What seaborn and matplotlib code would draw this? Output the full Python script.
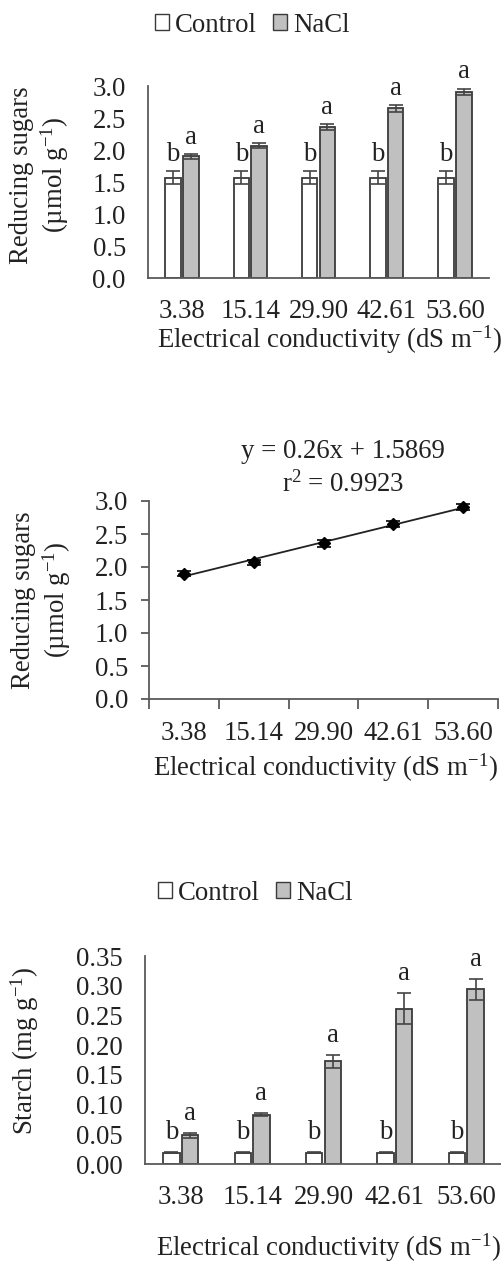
import numpy as np
import pandas as pd
import matplotlib
matplotlib.use("Agg")
import matplotlib.pyplot as plt
import seaborn as sns
from matplotlib.patches import Patch

sns.set_theme(style="white")
plt.rcParams['font.family'] = ['Liberation Serif', 'DejaVu Serif']
plt.rcParams['mathtext.fontset'] = 'custom'
plt.rcParams['mathtext.rm'] = 'Liberation Serif'
plt.rcParams['mathtext.it'] = 'Liberation Serif:italic'
plt.rcParams['text.color'] = '#222222'

# data
ec_labels = ["3.38", "15.14", "29.90", "42.61", "53.60"]
treatments = ["Control", "NaCl"]

sugar_control = [1.57, 1.57, 1.57, 1.57, 1.57]
sugar_control_err = [0.10, 0.10, 0.10, 0.10, 0.10]
sugar_nacl = [1.90, 2.07, 2.36, 2.65, 2.91]
sugar_nacl_err = [0.04, 0.04, 0.05, 0.05, 0.05]

starch_control = [0.019, 0.019, 0.019, 0.019, 0.019]
starch_control_err = [0.001, 0.001, 0.001, 0.001, 0.001]
starch_nacl = [0.048, 0.083, 0.173, 0.261, 0.294]
starch_nacl_err = [0.004, 0.003, 0.011, 0.026, 0.018]

letters_control = ["b", "b", "b", "b", "b"]
letters_nacl = ["a", "a", "a", "a", "a"]

reg_x = [1, 2, 3, 4, 5]
reg_eq = "y = 0.26x + 1.5869"
reg_r2 = "r$^{2}$ = 0.9923"

W, H = 502, 1263
FS = 19.3
EDGE = '#3a3a3a'
AX = '#5a5a5a'
palette = {"Control": "white", "NaCl": "#c0c0c0"}

fig = plt.figure(figsize=(W / 100, H / 100), dpi=100)


def px_axes(left, right, top, bottom):
    return fig.add_axes([left / W, (H - bottom) / H, (right - left) / W, (bottom - top) / H])


def bar_panel(ax, ctrl, ctrl_err, nacl, nacl_err, ymax, step, fmt, off):
    df = pd.DataFrame({
        "ec": ec_labels * 2,
        "trt": ["Control"] * 5 + ["NaCl"] * 5,
        "val": ctrl + nacl,
    })
    sns.barplot(data=df, x="ec", y="val", hue="trt", hue_order=treatments,
                palette=palette, edgecolor=EDGE, linewidth=1.3,
                width=0.52, gap=0.12, errorbar=None, legend=False, ax=ax)
    errs = [ctrl_err, nacl_err]
    vals = [ctrl, nacl]
    lets = [letters_control, letters_nacl]
    bars = list(ax.containers)
    for k, cont in enumerate(bars):
        xs = [p.get_x() + p.get_width() / 2 for p in cont.patches]
        ax.errorbar(xs, vals[k], yerr=errs[k], fmt='none', ecolor='#444444',
                    elinewidth=1.2, capsize=5, capthick=1.2)
        for x, v, e, t in zip(xs, vals[k], errs[k], lets[k]):
            ax.annotate(t, (x, v + e), xytext=(0, off), textcoords='offset points',
                        ha='center', va='bottom', fontsize=FS, annotation_clip=False)
    ax.set_ylim(0, ymax)
    ticks = np.arange(0, ymax + step / 2, step)
    ax.set_yticks(ticks)
    ax.set_yticklabels([fmt.format(t) for t in ticks])
    ax.set_xlim(-0.5, 4.5)
    ax.set_xlabel("")
    ax.set_ylabel("")
    sns.despine(ax=ax)
    for s in ["left", "bottom"]:
        ax.spines[s].set_color(AX)
        ax.spines[s].set_linewidth(1.3)
    ax.tick_params(axis='y', length=0, pad=16, labelsize=FS, labelcolor='#222222')
    ax.tick_params(axis='x', length=0, pad=15, labelsize=FS, labelcolor='#222222')


def add_legend(cx, cy):
    handles = [Patch(facecolor=palette[t], edgecolor=EDGE, linewidth=1.0) for t in treatments]
    fig.legend(handles, treatments, loc='center', bbox_to_anchor=(cx / W, (H - cy) / H),
               ncol=2, frameon=False, fontsize=FS, handlelength=0.55, handleheight=0.55,
               handletextpad=0.2, columnspacing=0.6, borderaxespad=0)


xlab = "Electrical conductivity (dS m$^{\\mathrm{-1}}$)"
ylab_sugar = "Reducing sugars\n(µmol g$^{\\mathrm{-1}}$)"

# panel 1: reducing sugars bars
ax1 = px_axes(148, 489, 86, 278)
bar_panel(ax1, sugar_control, sugar_control_err, sugar_nacl, sugar_nacl_err,
          3.0, 0.5, "{:.1f}", 3)
add_legend(252, 25)
fig.text(329 / W, (H - 340) / H, xlab, ha='center', va='center', fontsize=FS)
fig.text(40 / W, (H - 175) / H, ylab_sugar, ha='center',
         va='center', rotation=90, fontsize=FS, multialignment='center', linespacing=1.2)

# panel 2: regression of NaCl sugars
ax2 = px_axes(149, 498, 501, 699)
sns.regplot(x=reg_x, y=sugar_nacl, ci=None, scatter=False, ax=ax2,
            line_kws=dict(color='#222222', lw=1.3))
ax2.errorbar(reg_x, sugar_nacl, yerr=sugar_nacl_err, fmt='D', color='black',
             markersize=6.5, ecolor='black', elinewidth=1.2, capsize=5, capthick=1.2)
ax2.set_xlim(0.5, 5.5)
ax2.set_ylim(0, 3.0)
yt = np.arange(0, 3.01, 0.5)
ax2.set_yticks(yt)
ax2.set_yticklabels(["{:.1f}".format(t) for t in yt])
ax2.set_xticks(reg_x)
ax2.set_xticklabels(ec_labels)
ax2.set_xticks(np.arange(0.5, 5.6, 1.0), minor=True)
ax2.set_xlabel("")
ax2.set_ylabel("")
sns.despine(ax=ax2)
for s in ["left", "bottom"]:
    ax2.spines[s].set_color(AX)
    ax2.spines[s].set_linewidth(1.3)
ax2.tick_params(axis='y', which='major', direction='out', length=6, width=1.3, color=AX,
                left=True, pad=9, labelsize=FS, labelcolor='#222222')
ax2.tick_params(axis='x', which='major', length=0, pad=16, labelsize=FS, labelcolor='#222222')
ax2.tick_params(axis='x', which='minor', direction='out', length=7, width=1.3, color=AX,
                bottom=True)
fig.text(343 / W, (H - 452) / H, reg_eq, ha='center', va='center', fontsize=FS)
fig.text(343 / W, (H - 484) / H, reg_r2, ha='center', va='center', fontsize=FS)
fig.text(325 / W, (H - 768) / H, xlab, ha='center', va='center', fontsize=FS)
fig.text(42 / W, (H - 600) / H, ylab_sugar, ha='center',
         va='center', rotation=90, fontsize=FS, multialignment='center', linespacing=1.2)

# panel 3: starch bars
ax3 = px_axes(145, 502, 956, 1164)
bar_panel(ax3, starch_control, starch_control_err, starch_nacl, starch_nacl_err,
          0.35, 0.05, "{:.2f}", 5)
add_legend(255, 893)
fig.text(328 / W, (H - 1248) / H, xlab, ha='center', va='center', fontsize=FS)
fig.text(25 / W, (H - 1051) / H, "Starch (mg g$^{\\mathrm{-1}}$)", ha='center',
         va='center', rotation=90, fontsize=FS)

fig.savefig("out.png", dpi=100)
